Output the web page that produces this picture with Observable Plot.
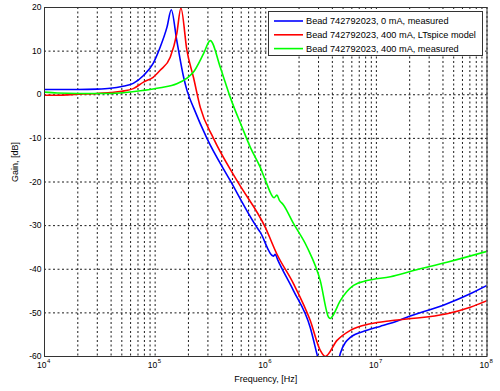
<!DOCTYPE html>
<html>
<head>
<meta charset="utf-8">
<script src="https://cdn.jsdelivr.net/npm/d3@7"></script>
<script src="https://cdn.jsdelivr.net/npm/@observablehq/plot@0.6"></script>
<style>
  body { margin: 0; background: #fff; }
  #chart { position: relative; width: 500px; height: 391px; font-family: "Liberation Sans", Arial, sans-serif; }
</style>
</head>
<body>
<div id="chart"></div>
<script>
// ---- data ----
const seriesNames = [
  "Bead 742792023, 0 mA, measured",
  "Bead 742792023, 400 mA, LTspice model",
  "Bead 742792023, 400 mA, measured"
];
const seriesColors = ["#0000ff", "#ff0000", "#00ff00"];

const freqBlue = [1e4, 2e4, 3e4, 3.93e4, 5e4, 6.34e4, 7.85e4, 9.6e4, 1.11e5, 1.28e5, 1.40e5, 1.57e5, 1.81e5, 1.94e5, 2.22e5, 2.94e5, 4.78e5, 8.32e5, 8.91e5, 1.17e6, 1.22e6, 1.28e6, 1.78e6, 2.52e6, 2.90e6, 3.11e6, 4.41e6, 4.72e6, 5.82e6, 8.22e6, 1.08e7, 1.34e7, 1.89e7, 4.35e7, 7.06e7, 1e8];
const gainBlue = [1.2, 1.2, 1.3, 1.5, 1.9, 2.6, 4.4, 7.2, 10.9, 15.5, 19.5, 12.4, 4.0, 1.0, -2.9, -10, -19.7, -30.4, -31.5, -37.0, -36.6, -37.8, -44.9, -53.3, -59.4, -62.5, -62, -59.3, -55.6, -54, -53.1, -52.4, -51, -47.9, -45.6, -43.7];

const freqRed = [1e4, 1.3e4, 2e4, 3e4, 3.93e4, 5e4, 6.34e4, 7.85e4, 9.6e4, 1.11e5, 1.37e5, 1.57e5, 1.71e5, 1.94e5, 2.22e5, 2.56e5, 3.37e5, 5.50e5, 9.91e5, 1.26e6, 1.78e6, 2.52e6, 3.11e6, 3.45e6, 4.41e6, 5.82e6, 8.81e6, 1.34e7, 1.89e7, 4.35e7, 7.06e7, 1e8];
const gainRed = [-0.1, -0.1, 0.1, 0.3, 0.5, 0.8, 1.4, 2.9, 4.0, 5.6, 8.6, 14, 19.9, 10.1, 4.0, -2.9, -10, -19.7, -30.4, -36.5, -43.3, -51.7, -58.6, -60, -56.3, -54, -52.5, -51.8, -51.4, -50.2, -48.7, -47.2];

const freqGreen = [1e4, 1.3e4, 2e4, 3.93e4, 7.85e4, 1.11e5, 1.57e5, 1.94e5, 2.22e5, 2.74e5, 3.15e5, 3.88e5, 4.31e5, 4.78e5, 6.10e5, 7.24e5, 8.91e5, 1.0e6, 1.19e6, 1.26e6, 1.33e6, 1.44e6, 1.78e6, 2.36e6, 3.11e6, 3.70e6, 3.85e6, 4.0e6, 4.72e6, 6.22e6, 8.22e6, 1.34e7, 2.17e7, 4.35e7, 1e8];
const gainGreen = [0.6, 0.4, 0.3, 0.3, 1.0, 1.6, 2.5, 3.8, 5.2, 9.4, 12.4, 6.3, 2.8, -0.6, -7.4, -12, -16.6, -19.8, -23.6, -23.0, -24.2, -25.2, -29.5, -34.9, -42.6, -51, -51.3, -50.8, -47.2, -43.7, -42.6, -41.7, -40.3, -38.4, -35.9];

const xDecades = [1e4, 1e5, 1e6, 1e7, 1e8];
const xExponents = ["4", "5", "6", "7", "8"];
const yTicks = [-60, -50, -40, -30, -20, -10, 0, 10, 20];
const xLabel = "Frequency, [Hz]";
const yLabel = "Gain, [dB]";

// ---- build table ----
const freqs = [freqBlue, freqRed, freqGreen];
const gains = [gainBlue, gainRed, gainGreen];
const rows = [];
freqs.forEach((fs, s) => fs.forEach((f, i) => rows.push({series: seriesNames[s], f, g: gains[s][i]})));

const xGrid = [];
for (let e = 4; e < 8; e++) for (let k = 1; k <= 9; k++) xGrid.push(k * Math.pow(10, e));
xGrid.push(1e8);

const decadeRows = xDecades.map((d, i) => ({d, e: xExponents[i]}));

const font = "'Liberation Sans', Arial, sans-serif";

const chart = Plot.plot({
  width: 500,
  height: 391,
  marginLeft: 44,
  marginRight: 13.5,
  marginTop: 7,
  marginBottom: 35,
  style: {fontFamily: font, fontSize: "8.5px", background: "#fff", color: "#000"},
  x: {type: "log", domain: [1e4, 1e8], axis: null},
  y: {domain: [-60, 20], axis: null},
  color: {domain: seriesNames, range: seriesColors},
  marks: [
    Plot.ruleX(xGrid, {x: d => d, stroke: "#000", strokeWidth: 0.9, strokeDasharray: "2,2.5"}),
    Plot.ruleY(yTicks, {y: d => d, stroke: "#000", strokeWidth: 0.9, strokeDasharray: "2,2.5"}),
    Plot.line(rows, {x: "f", y: "g", z: "series", stroke: "series", strokeWidth: 1.6, clip: true, curve: "monotone-x"}),
    Plot.frame({stroke: "#333", strokeWidth: 1}),
    Plot.text(yTicks, {y: d => d, frameAnchor: "left", dx: -3, textAnchor: "end", text: d => String(d), fontSize: 8.5}),
    Plot.text(decadeRows, {x: "d", frameAnchor: "bottom", dy: 11, dx: 2, textAnchor: "end", text: () => "10", fontSize: 8.5}),
    Plot.text(decadeRows, {x: "d", frameAnchor: "bottom", dy: 6, dx: 2.5, textAnchor: "start", text: "e", fontSize: 6}),
    Plot.text([xLabel], {frameAnchor: "bottom", dy: 25, text: d => d, fontSize: 9}),
    Plot.text([yLabel], {frameAnchor: "left", dx: -29, rotate: -90, text: d => d, fontSize: 9})
  ]
});
document.getElementById("chart").appendChild(chart);

// ---- legend (inside the axes, top right) ----
const leg = d3.select("#chart").append("svg")
  .attr("width", 216).attr("height", 46)
  .style("position", "absolute").style("left", "267.5px").style("top", "11px");
leg.append("rect").attr("x", 0.5).attr("y", 0.5).attr("width", 214).attr("height", 44)
  .attr("fill", "#fff").attr("stroke", "#333");
seriesNames.forEach((name, i) => {
  const cy = 10 + i * 13.8;
  leg.append("line").attr("x1", 6).attr("x2", 35).attr("y1", cy).attr("y2", cy)
    .attr("stroke", seriesColors[i]).attr("stroke-width", 1.6);
  leg.append("text").attr("x", 38).attr("y", cy).attr("dy", "0.35em")
    .attr("font-family", font).attr("font-size", "9.2px").attr("fill", "#000").text(name);
});
</script>
</body>
</html>
